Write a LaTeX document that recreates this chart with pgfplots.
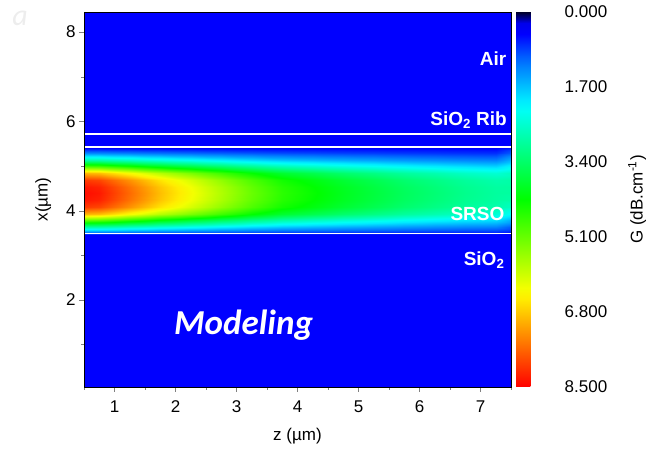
\documentclass[border=0pt]{standalone}
\usepackage{pgfplots}
\pgfplotsset{compat=1.18}
\usepackage{fontspec}
\setmainfont{Liberation Sans}
\newfontfamily\carlito{Carlito}
\definecolor{bgblue}{RGB}{0,0,255}
\pgfplotsset{colormap={gain}{
rgb255=(0,0,40) rgb255=(0,0,235) rgb255=(0,0,255) rgb255=(0,46,255) rgb255=(0,92,255)
rgb255=(0,131,255) rgb255=(0,165,255) rgb255=(0,200,255) rgb255=(0,234,255) rgb255=(0,255,243)
rgb255=(0,255,213) rgb255=(0,255,182) rgb255=(0,255,152) rgb255=(0,255,122) rgb255=(0,255,91)
rgb255=(0,255,61) rgb255=(0,255,30) rgb255=(0,255,0) rgb255=(30,255,0) rgb255=(61,255,0)
rgb255=(91,255,0) rgb255=(121,255,0) rgb255=(152,255,0) rgb255=(182,255,0) rgb255=(212,255,0)
rgb255=(243,255,0) rgb255=(255,237,0) rgb255=(255,208,0) rgb255=(255,178,0) rgb255=(255,148,0)
rgb255=(255,119,0) rgb255=(255,89,0) rgb255=(255,59,0) rgb255=(255,30,0) rgb255=(255,0,0)}}
\begin{document}
\begin{tikzpicture}
\useasboundingbox (-84pt,-70pt) rectangle (568pt,387pt);
\begin{axis}[
  scale only axis, width=427pt, height=375pt,
  xmin=0.5, xmax=7.5, ymin=0.05, ymax=8.45,
  axis background/.style={fill=bgblue},
  xtick={1,2,3,4,5,6,7}, ytick={2,4,6,8},
  minor xtick={0.5,1.5,2.5,3.5,4.5,5.5,6.5,7.5},
  minor ytick={1,3,5,7},
  tick align=outside, tick pos=left,
  major tick length=5pt, minor tick length=3pt,
  tick label style={font=\fontsize{17}{17}\selectfont},
  label style={font=\fontsize{17}{17}\selectfont},
  /pgf/number format/assume math mode=true,
  xlabel={z (µm)}, ylabel={x(µm)},
  xticklabel shift=5pt, xlabel shift=9pt, ylabel shift=8pt,
  colormap name=gain,
  point meta min=0, point meta max=8.5,
  colorbar right,
  colorbar shift/.style={xshift=5pt},
  colorbar style={width=45pt, y dir=reverse,
    ytick={0,1.7,3.4,5.1,6.8,8.5},
    yticklabel style={/pgf/number format/.cd, fixed, fixed zerofill, precision=3, assume math mode=true},
    tick label style={font=\fontsize{17}{17}\selectfont},
    label style={font=\fontsize{17}{17}\selectfont},
    ylabel={G (dB.cm\textsuperscript{-1})}, ylabel shift=14pt,
    major tick length=0pt, axis line style={draw=none}},
  clip mode=individual,
  axis on top,
]
\addplot[matrix plot*, shader=interp, mesh/cols=15, point meta=explicit] coordinates {
(0.5,3.49)[0.5] (1,3.49)[0.5] (1.5,3.49)[0.5] (2,3.49)[0.5] (2.5,3.49)[0.5] (3,3.49)[0.5] (3.5,3.49)[0.5] (4,3.49)[0.5] (4.5,3.49)[0.5] (5,3.49)[0.5] (5.5,3.49)[0.5] (6,3.49)[0.5] (6.5,3.49)[0.5] (7,3.49)[0.5] (7.5,3.49)[0.5]

(0.5,3.56)[1.30] (1,3.56)[1.28] (1.5,3.56)[1.21] (2,3.56)[1.14] (2.5,3.56)[1.08] (3,3.56)[1.02] (3.5,3.56)[0.96] (4,3.56)[0.91] (4.5,3.56)[0.88] (5,3.56)[0.85] (5.5,3.56)[0.83] (6,3.56)[0.80] (6.5,3.56)[0.78] (7,3.56)[0.76] (7.5,3.56)[0.75]

(0.5,3.71)[2.90] (1,3.71)[2.84] (1.5,3.71)[2.63] (2,3.71)[2.42] (2.5,3.71)[2.24] (3,3.71)[2.06] (3.5,3.71)[1.88] (4,3.71)[1.73] (4.5,3.71)[1.64] (5,3.71)[1.55] (5.5,3.71)[1.48] (6,3.71)[1.40] (6.5,3.71)[1.34] (7,3.71)[1.28] (7.5,3.71)[1.24]

(0.5,3.86)[5.14] (1,3.86)[5.02] (1.5,3.86)[4.62] (2,3.86)[4.21] (2.5,3.86)[3.86] (3,3.86)[3.52] (3.5,3.86)[3.17] (4,3.86)[2.88] (4.5,3.86)[2.70] (5,3.86)[2.53] (5.5,3.86)[2.39] (6,3.86)[2.24] (6.5,3.86)[2.12] (7,3.86)[2.01] (7.5,3.86)[1.92]

(0.5,4.01)[7.06] (1,4.01)[6.90] (1.5,4.01)[6.32] (2,4.01)[5.75] (2.5,4.01)[5.26] (3,4.01)[4.76] (3.5,4.01)[4.27] (4,4.01)[3.86] (4.5,4.01)[3.62] (5,4.01)[3.37] (5.5,4.01)[3.17] (6,4.01)[2.96] (6.5,4.01)[2.80] (7,4.01)[2.63] (7.5,4.01)[2.51]

(0.5,4.16)[8.10] (1,4.16)[7.91] (1.5,4.16)[7.25] (2,4.16)[6.58] (2.5,4.16)[6.01] (3,4.16)[5.44] (3.5,4.16)[4.87] (4,4.16)[4.40] (4.5,4.16)[4.11] (5,4.16)[3.83] (5.5,4.16)[3.59] (6,4.16)[3.35] (6.5,4.16)[3.16] (7,4.16)[2.97] (7.5,4.16)[2.83]

(0.5,4.31)[8.42] (1,4.31)[8.22] (1.5,4.31)[7.53] (2,4.31)[6.84] (2.5,4.31)[6.24] (3,4.31)[5.65] (3.5,4.31)[5.05] (4,4.31)[4.56] (4.5,4.31)[4.26] (5,4.31)[3.97] (5.5,4.31)[3.72] (6,4.31)[3.47] (6.5,4.31)[3.27] (7,4.31)[3.07] (7.5,4.31)[2.93]

(0.5,4.46)[8.50] (1,4.46)[8.30] (1.5,4.46)[7.60] (2,4.46)[6.90] (2.5,4.46)[6.30] (3,4.46)[5.70] (3.5,4.46)[5.10] (4,4.46)[4.60] (4.5,4.46)[4.30] (5,4.46)[4.00] (5.5,4.46)[3.75] (6,4.46)[3.50] (6.5,4.46)[3.30] (7,4.46)[3.10] (7.5,4.46)[2.95]

(0.5,4.61)[8.42] (1,4.61)[8.22] (1.5,4.61)[7.53] (2,4.61)[6.84] (2.5,4.61)[6.24] (3,4.61)[5.65] (3.5,4.61)[5.05] (4,4.61)[4.56] (4.5,4.61)[4.26] (5,4.61)[3.97] (5.5,4.61)[3.72] (6,4.61)[3.47] (6.5,4.61)[3.27] (7,4.61)[3.07] (7.5,4.61)[2.93]

(0.5,4.76)[8.10] (1,4.76)[7.91] (1.5,4.76)[7.25] (2,4.76)[6.58] (2.5,4.76)[6.01] (3,4.76)[5.44] (3.5,4.76)[4.87] (4,4.76)[4.40] (4.5,4.76)[4.11] (5,4.76)[3.83] (5.5,4.76)[3.59] (6,4.76)[3.35] (6.5,4.76)[3.16] (7,4.76)[2.97] (7.5,4.76)[2.83]

(0.5,4.91)[7.06] (1,4.91)[6.90] (1.5,4.91)[6.32] (2,4.91)[5.75] (2.5,4.91)[5.26] (3,4.91)[4.76] (3.5,4.91)[4.27] (4,4.91)[3.86] (4.5,4.91)[3.62] (5,4.91)[3.37] (5.5,4.91)[3.17] (6,4.91)[2.96] (6.5,4.91)[2.80] (7,4.91)[2.63] (7.5,4.91)[2.51]

(0.5,5.06)[5.14] (1,5.06)[5.02] (1.5,5.06)[4.62] (2,5.06)[4.21] (2.5,5.06)[3.86] (3,5.06)[3.52] (3.5,5.06)[3.17] (4,5.06)[2.88] (4.5,5.06)[2.70] (5,5.06)[2.53] (5.5,5.06)[2.39] (6,5.06)[2.24] (6.5,5.06)[2.12] (7,5.06)[2.01] (7.5,5.06)[1.92]

(0.5,5.21)[2.90] (1,5.21)[2.84] (1.5,5.21)[2.63] (2,5.21)[2.42] (2.5,5.21)[2.24] (3,5.21)[2.06] (3.5,5.21)[1.88] (4,5.21)[1.73] (4.5,5.21)[1.64] (5,5.21)[1.55] (5.5,5.21)[1.48] (6,5.21)[1.40] (6.5,5.21)[1.34] (7,5.21)[1.28] (7.5,5.21)[1.24]

(0.5,5.36)[1.30] (1,5.36)[1.28] (1.5,5.36)[1.21] (2,5.36)[1.14] (2.5,5.36)[1.08] (3,5.36)[1.02] (3.5,5.36)[0.96] (4,5.36)[0.91] (4.5,5.36)[0.88] (5,5.36)[0.85] (5.5,5.36)[0.83] (6,5.36)[0.80] (6.5,5.36)[0.78] (7,5.36)[0.76] (7.5,5.36)[0.75]

(0.5,5.43)[0.5] (1,5.43)[0.5] (1.5,5.43)[0.5] (2,5.43)[0.5] (2.5,5.43)[0.5] (3,5.43)[0.5] (3.5,5.43)[0.5] (4,5.43)[0.5] (4.5,5.43)[0.5] (5,5.43)[0.5] (5.5,5.43)[0.5] (6,5.43)[0.5] (6.5,5.43)[0.5] (7,5.43)[0.5] (7.5,5.43)[0.5]
};
\addplot[white, line width=1.8pt] coordinates {(0.5,5.71) (7.5,5.71)};
\addplot[white, line width=1.8pt] coordinates {(0.5,5.43) (7.5,5.43)};
\addplot[white, line width=1.8pt] coordinates {(0.5,3.49) (7.5,3.49)};
\node[anchor=base east, text=white, font=\bfseries\fontsize{19}{19}\selectfont] at (axis cs:7.48,7.26) {Air};
\node[anchor=base east, text=white, font=\bfseries\fontsize{19}{19}\selectfont] at (axis cs:7.49,5.91) {SiO\textsubscript{2} Rib};
\node[anchor=base east, text=white, font=\bfseries\fontsize{19}{19}\selectfont] at (axis cs:7.45,3.78) {SRSO};
\node[anchor=base east, text=white, font=\bfseries\fontsize{19}{19}\selectfont] at (axis cs:7.45,2.77) {SiO\textsubscript{2}};
\node[anchor=base west, text=white, font=\carlito\bfseries\itshape\fontsize{35}{35}\selectfont] at (axis cs:1.92,1.22) {Modeling};
\end{axis}
\node[text=black!7, font=\carlito\itshape\fontsize{30}{30}\selectfont] at (-64pt,369pt) {a};
\end{tikzpicture}
\end{document}
